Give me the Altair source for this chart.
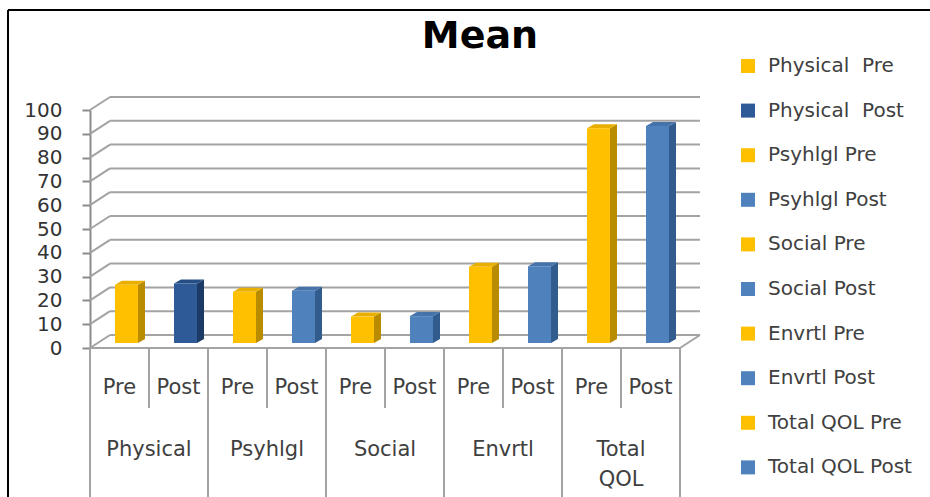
import altair as alt
import pandas as pd

# ---- data -------------------------------------------------------------
chart_title = "Mean"
domains = ["Physical", "Psyhlgl", "Social", "Envrtl", "Total QOL"]
domain_labels = ["Physical", "Psyhlgl", "Social", "Envrtl", "Total\nQOL"]
phases = ["Pre", "Post"]
pre_means = [24.5, 21.5, 11.1, 32.0, 90.2]
post_means = [25.0, 22.0, 11.3, 32.3, 91.2]
series_names = [
    "Physical\u00a0 Pre", "Physical\u00a0 Post", "Psyhlgl Pre", "Psyhlgl Post",
    "Social Pre", "Social Post", "Envrtl Pre", "Envrtl Post",
    "Total QOL Pre", "Total QOL Post",
]
y_ticks = list(range(0, 101, 10))

# ---- styling ----------------------------------------------------------
FRONT = {"pre": "#FFC000", "dark": "#2E5B98", "blue": "#4F81BD"}
SIDE = {"pre": "#B98C00", "dark": "#1C3A66", "blue": "#335C8E"}
TOP = {"pre": "#E8AE00", "dark": "#264E85", "blue": "#4573AA"}
GRID = "#A3A3A3"
TEXT = "#404040"
FONT = "DejaVu Sans"

W, H = 590, 238            # plot area in px
N_SLOTS = 10
PX_X = W / N_SLOTS         # px per slot
PX_Y = H / 100             # px per unit
WALL_DX, WALL_DY = 20, -13   # depth of the back wall (px)
BAR_HALF = 11.5 / PX_X
BAR_SHIFT = 7 / PX_X
DEPTH_X = 7 / PX_X
DEPTH_Y = 4 / PX_Y
LIFT = -5                  # bars stand a little behind the floor's front edge

Y_AXIS = alt.Axis(
    values=y_ticks, grid=False, title=None, domainColor="#8C8C8C", domainWidth=2,
    tickColor="#8C8C8C", tickWidth=2, tickSize=8, labelPadding=20,
    labelFont=FONT, labelFontSize=20, labelColor="#333333",
)

# ---- tables built from the arrays ------------------------------------
def kind(slot):
    if slot % 2 == 0:
        return "pre"
    return "dark" if slot == 1 else "blue"

front_rows, side_rows, top_rows, cat_rows = [], [], [], []
for d_i, dom in enumerate(domains):
    for p_i, (ph, vals) in enumerate(zip(phases, [pre_means, post_means])):
        slot = 2 * d_i + p_i
        v = vals[d_i]
        c = slot + 0.5
        xl = c + BAR_SHIFT - BAR_HALF
        xr = c + BAR_SHIFT + BAR_HALF
        k = kind(slot)
        front_rows.append({"series": series_names[slot], "xl": xl, "xr": xr, "value": v})
        side_rows += [
            {"bar": slot, "x": xr, "hi": v, "lo": 0, "fill": SIDE[k]},
            {"bar": slot, "x": xr + DEPTH_X, "hi": v + DEPTH_Y, "lo": DEPTH_Y, "fill": SIDE[k]},
        ]
        top_rows += [
            {"bar": slot, "x": xl, "hi": v, "lo": v, "fill": TOP[k]},
            {"bar": slot, "x": xl + DEPTH_X, "hi": v + DEPTH_Y, "lo": v, "fill": TOP[k]},
            {"bar": slot, "x": xr, "hi": v + DEPTH_Y, "lo": v, "fill": TOP[k]},
            {"bar": slot, "x": xr + DEPTH_X, "hi": v + DEPTH_Y, "lo": v + DEPTH_Y, "fill": TOP[k]},
        ]
        cat_rows.append({"c": c, "label": ph})

front = pd.DataFrame(front_rows)
side = pd.DataFrame(side_rows)
top = pd.DataFrame(top_rows)
cats = pd.DataFrame(cat_rows)
groups = pd.DataFrame({"c": [2 * i + 1 for i in range(len(domains))], "label": domain_labels})
ticks = pd.DataFrame({"tick": y_ticks})
outer_div = pd.DataFrame({"b": [2 * i for i in range(len(domains) + 1)]})
inner_div = pd.DataFrame({"b": [2 * i + 1 for i in range(len(domains))]})
one_row = pd.DataFrame({"title": [chart_title]})

xs = alt.Scale(domain=[0, N_SLOTS], nice=False, zero=False)
ys = alt.Scale(domain=[0, 100], nice=False)
front_colors = [FRONT[kind(i)] for i in range(N_SLOTS)]

# ---- back wall and floor ---------------------------------------------
wall = alt.Chart(ticks).mark_rule(
    color=GRID, strokeWidth=2, xOffset=WALL_DX, x2Offset=WALL_DX,
    yOffset=WALL_DY, y2Offset=WALL_DY
).encode(
    x=alt.datum(0, scale=xs, axis=None), x2=alt.datum(N_SLOTS),
    y=alt.Y("tick:Q", scale=ys, axis=Y_AXIS),
)
wall_edge = alt.Chart(ticks).mark_rule(
    color=GRID, strokeWidth=2, x2Offset=WALL_DX, y2Offset=WALL_DY
).encode(
    x=alt.datum(0, scale=xs, axis=None), x2=alt.datum(0),
    y=alt.Y("tick:Q", scale=ys, axis=Y_AXIS), y2="tick:Q",
)
floor_front = alt.Chart(one_row).mark_rule(color=GRID, strokeWidth=2).encode(
    x=alt.datum(0, scale=xs, axis=None), x2=alt.datum(N_SLOTS),
    y=alt.datum(0, scale=ys, axis=Y_AXIS),
)
floor_side = alt.Chart(one_row).mark_rule(
    color=GRID, strokeWidth=2, x2Offset=WALL_DX, y2Offset=WALL_DY
).encode(
    x=alt.datum(N_SLOTS, scale=xs, axis=None), x2=alt.datum(N_SLOTS),
    y=alt.datum(0, scale=ys, axis=Y_AXIS), y2=alt.datum(0),
)

# ---- category table under the floor -----------------------------------
outer_lines = alt.Chart(outer_div).mark_rule(color=GRID, strokeWidth=2).encode(
    x=alt.X("b:Q", scale=xs, axis=None),
    y=alt.datum(0, scale=ys, axis=Y_AXIS), y2=alt.value(400),
)
inner_lines = alt.Chart(inner_div).mark_rule(color=GRID, strokeWidth=2).encode(
    x=alt.X("b:Q", scale=xs, axis=None),
    y=alt.datum(0, scale=ys, axis=Y_AXIS), y2=alt.value(298),
)
phase_text = alt.Chart(cats).mark_text(
    font=FONT, fontSize=21, color=TEXT, baseline="middle"
).encode(x=alt.X("c:Q", scale=xs, axis=None), y=alt.value(278), text="label:N")
group_text = alt.Chart(groups).mark_text(
    font=FONT, fontSize=21, color=TEXT, baseline="top", lineBreak="\n", lineHeight=30
).encode(x=alt.X("c:Q", scale=xs, axis=None), y=alt.value(329), text="label:N")

# ---- 3-D columns -------------------------------------------------------
side_faces = alt.Chart(side).mark_area(yOffset=LIFT, y2Offset=LIFT).encode(
    x=alt.X("x:Q", scale=xs, axis=None),
    y=alt.Y("hi:Q", scale=ys, axis=Y_AXIS, stack=None), y2="lo:Q",
    fill=alt.Fill("fill:N", scale=None), detail="bar:N",
)
top_faces = alt.Chart(top).mark_area(yOffset=LIFT, y2Offset=LIFT).encode(
    x=alt.X("x:Q", scale=xs, axis=None),
    y=alt.Y("hi:Q", scale=ys, axis=Y_AXIS, stack=None), y2="lo:Q",
    fill=alt.Fill("fill:N", scale=None), detail="bar:N",
)
front_faces = alt.Chart(front).mark_bar(yOffset=LIFT, y2Offset=LIFT).encode(
    x=alt.X("xl:Q", scale=xs, axis=None), x2="xr:Q",
    y=alt.Y("value:Q", scale=ys, axis=Y_AXIS),
    y2=alt.datum(0),
    color=alt.Color("series:N", scale=alt.Scale(domain=series_names, range=front_colors),
                    legend=alt.Legend(
                        orient="none", legendX=648, legendY=-54, title=None,
                        symbolType="square", symbolSize=196, symbolStrokeWidth=0,
                        labelFont=FONT, labelFontSize=20, labelColor=TEXT,
                        labelOffset=10, rowPadding=24.6, padding=0, labelLimit=300,
                    )),
)

# ---- title and outer frame -----------------------------------------------
title_text = alt.Chart(one_row).mark_text(
    font=FONT, fontSize=38, fontWeight="bold", color="black", baseline="alphabetic"
).encode(x=alt.value(W / 2 + 95), y=alt.value(-62), text="title:N")
frame_left = alt.Chart(one_row).mark_rule(color="black", strokeWidth=2).encode(
    x=alt.value(-82), y=alt.value(-100), y2=alt.value(400))
frame_top = alt.Chart(one_row).mark_rule(color="black", strokeWidth=2).encode(
    x=alt.value(-82), x2=alt.value(850), y=alt.value(-100))

chart = alt.layer(
    wall, wall_edge, floor_front, floor_side, outer_lines, inner_lines,
    side_faces, top_faces, front_faces, phase_text, group_text,
    title_text, frame_left, frame_top,
).properties(
    width=W, height=H,
    autosize=alt.AutoSizeParams(type="none"),
    padding={"left": 90, "top": 110, "right": 250, "bottom": 149},
).configure_view(strokeWidth=0)

chart.save("out.html", embed_options={"renderer": "svg", "actions": False})
